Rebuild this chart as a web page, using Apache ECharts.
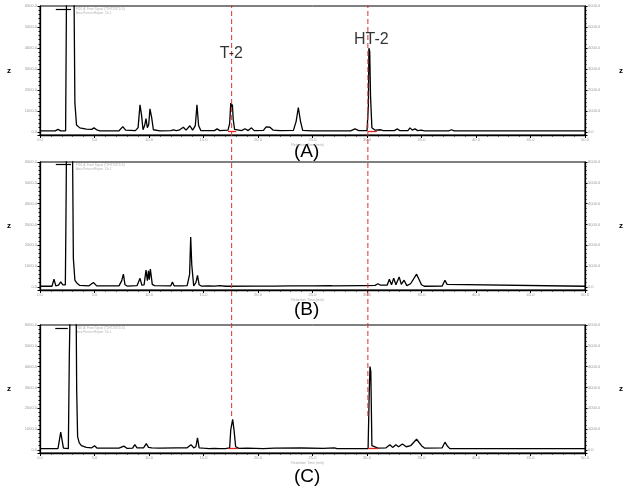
<!DOCTYPE html>
<html><head><meta charset="utf-8">
<script src="https://cdn.jsdelivr.net/npm/echarts@6/dist/echarts.min.js"></script>
<style>html,body{margin:0;padding:0;background:#fff}#c{width:626px;height:494px}</style>
</head><body><div id="c"></div>
<script>
// ---- tick labels / categories ----
const xTickLabels = ['0.0','5.0','10.0','15.0','20.0','25.0','30.0','35.0','40.0','45.0','50.0'];
const yTickLabels = ['0.0','1000.0','2000.0','3000.0','4000.0','5000.0','6000.0'];
const panelLabels = ['(A)','(B)','(C)'];
const peakNames = ['T-2','HT-2'];
const peakTimes = [3.51, 6.005];

// ---- chromatogram traces [time, response] ----
const traceA = [[0,0.05],[0.28,0.05],[0.33,0.12],[0.38,0.05],[0.47,0.05],[0.49,8],[0.62,8],[0.64,1.38],[0.67,0.33],[0.73,0.19],[0.85,0.13],[0.95,0.12],[0.99,0.19],[1.04,0.1],[1.1,0.05],[1.45,0.05],[1.52,0.25],[1.57,0.08],[1.75,0.06],[1.80,0.2],[1.835,1.29],[1.865,0.76],[1.89,0.1],[1.92,0.3],[1.945,0.63],[1.97,0.2],[1.995,0.35],[2.018,1.10],[2.05,0.67],[2.08,0.1],[2.2,0.05],[2.4,0.06],[2.45,0.1],[2.5,0.06],[2.55,0.08],[2.63,0.22],[2.68,0.08],[2.75,0.29],[2.8,0.08],[2.85,0.3],[2.88,1.29],[2.91,0.3],[2.95,0.06],[3.2,0.06],[3.25,0.14],[3.3,0.06],[3.45,0.08],[3.48,0.4],[3.50,1.37],[3.515,1.2],[3.53,1.3],[3.545,0.6],[3.57,0.12],[3.6,0.07],[3.7,0.06],[3.76,0.15],[3.82,0.06],[3.88,0.19],[3.93,0.06],[4.1,0.07],[4.15,0.24],[4.22,0.22],[4.28,0.08],[4.4,0.06],[4.65,0.07],[4.7,0.5],[4.74,1.16],[4.78,0.5],[4.82,0.07],[5.0,0.05],[5.7,0.05],[5.78,0.14],[5.85,0.06],[6.0,0.06],[6.025,1.2],[6.035,3.99],[6.05,3.82],[6.065,1.68],[6.09,0.2],[6.15,0.08],[6.25,0.1],[6.3,0.06],[6.5,0.06],[6.56,0.14],[6.6,0.06],[6.75,0.06],[6.79,0.19],[6.83,0.08],[6.88,0.14],[6.93,0.06],[7.0,0.08],[7.05,0.05],[7.5,0.05],[7.55,0.1],[7.6,0.05],[10,0.05]];
const traceB = [[0,0.03],[0.22,0.03],[0.257,0.37],[0.29,0.05],[0.34,0.08],[0.38,0.24],[0.42,0.1],[0.45,0.05],[0.465,0.1],[0.477,3.5],[0.49,8],[0.593,8],[0.612,1.37],[0.625,0.9],[0.64,0.32],[0.68,0.17],[0.73,0.07],[0.9,0.05],[0.98,0.21],[1.04,0.05],[1.45,0.05],[1.5,0.3],[1.53,0.61],[1.56,0.1],[1.6,0.04],[1.78,0.06],[1.835,0.41],[1.87,0.08],[1.91,0.1],[1.945,0.81],[1.97,0.3],[1.99,0.77],[2.005,0.35],[2.025,0.86],[2.06,0.12],[2.1,0.06],[2.4,0.05],[2.43,0.24],[2.46,0.05],[2.6,0.05],[2.63,0.08],[2.7,0.06],[2.745,0.6],[2.765,2.39],[2.785,1.05],[2.82,0.05],[2.86,0.2],[2.89,0.55],[2.92,0.1],[2.96,0.04],[3.1,0.05],[3.2,0.04],[3.3,0.06],[3.4,0.03],[3.95,0.04],[3.98,0.08],[4.01,0.04],[4.23,0.04],[4.26,0.09],[4.3,0.04],[4.6,0.05],[5.0,0.05],[5.33,0.06],[5.35,0.1],[5.38,0.05],[5.9,0.06],[5.93,0.15],[5.96,0.06],[6.15,0.07],[6.2,0.15],[6.25,0.08],[6.37,0.08],[6.41,0.37],[6.45,0.1],[6.49,0.42],[6.53,0.1],[6.59,0.48],[6.63,0.12],[6.68,0.32],[6.73,0.06],[6.8,0.15],[6.91,0.61],[7.0,0.1],[7.05,0.03],[7.38,0.04],[7.43,0.32],[7.47,0.12],[7.5,0.03],[10,0.03]];
const traceC = [[0,0.06],[0.33,0.06],[0.38,0.85],[0.43,0.08],[0.52,0.06],[0.538,4.48],[0.56,8],[0.66,8],[0.673,2.88],[0.69,0.64],[0.72,0.34],[0.76,0.2],[0.85,0.12],[0.95,0.1],[1.0,0.2],[1.05,0.08],[1.45,0.08],[1.54,0.18],[1.6,0.07],[1.7,0.08],[1.74,0.25],[1.78,0.1],[1.9,0.1],[1.95,0.3],[1.99,0.12],[2.05,0.1],[2.2,0.08],[2.5,0.1],[2.7,0.1],[2.77,0.25],[2.82,0.1],[2.86,0.15],[2.89,0.58],[2.92,0.1],[3.0,0.08],[3.1,0.06],[3.2,0.07],[3.3,0.06],[3.4,0.06],[3.48,0.1],[3.5,0.96],[3.535,1.47],[3.56,0.96],[3.59,0.15],[3.65,0.07],[3.8,0.08],[4.1,0.06],[4.3,0.08],[4.8,0.09],[5.2,0.07],[5.4,0.1],[5.45,0.06],[5.9,0.06],[5.93,0.1],[5.96,0.06],[6.02,0.06],[6.04,2.64],[6.055,4.0],[6.07,3.76],[6.09,0.2],[6.2,0.08],[6.35,0.1],[6.42,0.25],[6.47,0.12],[6.53,0.25],[6.58,0.15],[6.65,0.28],[6.72,0.15],[6.8,0.2],[6.91,0.51],[7.0,0.2],[7.06,0.08],[7.38,0.1],[7.43,0.37],[7.47,0.2],[7.52,0.06],[10,0.06]];

// integration baselines [start, end] per panel (B has none)
const integA = [[3.45,3.6],[6.02,6.18]];
const integB = [];
const integC = [[3.46,3.63],[6.02,6.2]];
// start marker segment at top-left [t0, t1, level]
const startMark = [[0.29,0.57,5.86],[0.29,0.57,5.88],[0.28,0.51,5.85]];

const traces = [traceA, traceB, traceC];
const integs = [integA, integB, integC];

const FONT = 'Liberation Sans, Arial, sans-serif';
const grids = [
  {left:40, right:40, top:6, height:129},
  {left:40, right:40, top:162, height:128},
  {left:40, right:40, top:325, height:128},
  {left:40, right:40, top:5, height:411}
];
const gridBorder = {show:true, borderColor:'#000', borderWidth:1, backgroundColor:'transparent'};

const xAxes = [], yAxes = [], series = [];
for (let i = 0; i < 3; i++) {
  xAxes.push({
    type:'value', gridIndex:i, min:0, max:10, interval:1,
    axisLine:{show:true, onZero:false, lineStyle:{color:'#000', width:1.3}},
    axisTick:{show:true, length:3, lineStyle:{color:'#000'}},
    minorTick:{show:true, splitNumber:5, length:1.5, lineStyle:{color:'#000'}},
    splitLine:{show:false},
    axisLabel:{fontSize:4, color:'#9a9a9a', margin:3, formatter:(v)=>xTickLabels[Math.round(v)] ?? ''},
    name:'Retention Time (min)', nameLocation:'middle', nameGap:8,
    nameTextStyle:{fontSize:3.5, color:'#aaa', padding:[0,0,0,-10]}
  });
  const yBase = {
    type:'value', gridIndex:i, min:-0.15, max:6, splitNumber:6,
    axisLine:{show:true, onZero:false, lineStyle:{color:'#000', width:1.3}},
    axisTick:{show:true, length:2.5, lineStyle:{color:'#000'}},
    minorTick:{show:true, splitNumber:5, length:1.5, lineStyle:{color:'#000'}},
    splitLine:{show:false},
    axisLabel:{fontSize:4, color:'#9a9a9a', margin:3, showMinLabel:false,
      formatter:(v)=> (Math.abs(v-Math.round(v))<1e-6 && v>=0) ? (yTickLabels[Math.round(v)] ?? '') : ''},
    name:'z', nameLocation:'middle', nameRotate:0,
    nameTextStyle:{fontSize:8, fontWeight:'bold', color:'#000', fontFamily:FONT}
  };
  yAxes.push(Object.assign({}, yBase, {position:'left', nameGap:29}));
  yAxes.push(Object.assign({}, yBase, {position:'right', nameGap:34}));

  const mlData = integs[i].map(s => [{coord:[s[0], traces[i][1][1]]},{coord:[s[1], traces[i][1][1]]}]);
  const sm = startMark[i];
  const blackMark = [[{coord:[sm[0], sm[2]]},{coord:[sm[1], sm[2]]}]];
  series.push({
    type:'line', xAxisIndex:i, yAxisIndex:i*2, data:traces[i],
    showSymbol:false, symbol:'none', smooth:false, clip:true,
    lineStyle:{color:'#000', width:1.3}, silent:true, z:3,
    markLine:{symbol:'none', silent:true, animation:false, label:{show:false},
      lineStyle:{color:'#e02020', width:1.3, type:'solid'}, data:mlData}
  });
  series.push({
    type:'line', xAxisIndex:i, yAxisIndex:i*2, data:[],
    markLine:{symbol:'none', silent:true, animation:false, label:{show:false},
      lineStyle:{color:'#000', width:1.2, type:'solid'}, data:blackMark}
  });
}
// overlay grid for dashed reference lines
xAxes.push({type:'value', gridIndex:3, min:0, max:10, show:false});
yAxes.push({type:'value', gridIndex:3, min:0, max:1, show:false});
peakTimes.forEach((t) => {
  series.push({
    type:'line', xAxisIndex:3, yAxisIndex:6, data:[[t,0],[t,1]],
    showSymbol:false, symbol:'none', silent:true, z:5,
    lineStyle:{color:'#e03030', width:1, type:[5,3]}
  });
});
// peak name labels in panel A
const labelLevel = [3.72, 4.38];
const labelShift = [0, 4];
series.push({
  type:'scatter', xAxisIndex:0, yAxisIndex:0, symbolSize:0, silent:true, z:6,
  data: peakNames.map((n, k) => ({name:n, value:[peakTimes[k], labelLevel[k]],
    label:{show:true, position:'inside', offset:[labelShift[k],0], formatter:'{b}',
      fontSize:16, color:'#000', fontFamily:FONT}}))
});

const chart = echarts.init(document.getElementById('c'), null, {renderer:'canvas'});
chart.setOption({
  animation:false,
  backgroundColor:'#fff',
  grid: grids.map((g, i) => i < 3 ? Object.assign({}, g, gridBorder) : g),
  xAxis: xAxes,
  yAxis: yAxes,
  series: series,
  graphic: [
    ...panelLabels.map((txt, i) => ({
      type:'text', left:294, top:[142, 300, 467][i],
      style:{text:txt, fontSize:19, fontFamily:FONT, fill:'#000'}
    })),
    ...[7, 163, 326].map((y) => ({
      type:'text', left:76, top:y,
      style:{text:'FID1 A, Front Signal (T2HT2\\STD.D)\nArea Percent Report  Ch.1', fontSize:3, lineHeight:4, fill:'#b0b0b0', fontFamily:FONT}
    }))
  ]
});
</script>
</body></html>
